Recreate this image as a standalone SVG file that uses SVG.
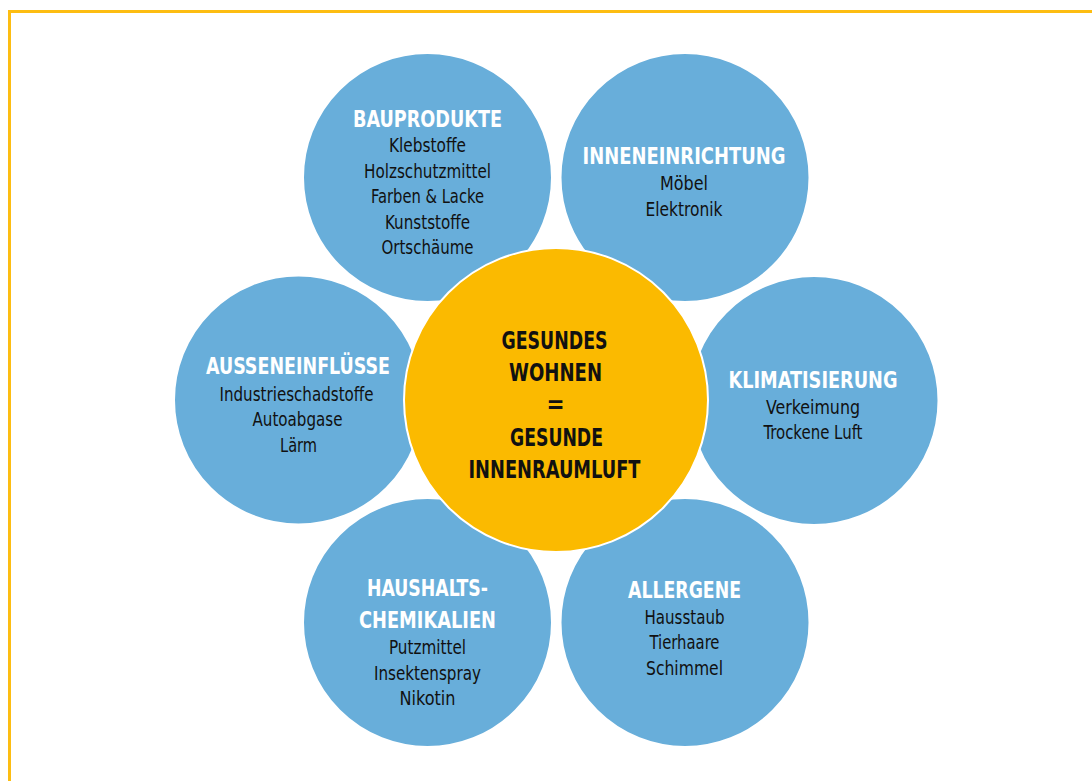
<svg xmlns="http://www.w3.org/2000/svg" width="1092" height="781" viewBox="0 0 1092 781">
<style>
.bg{fill:#ffffff}
.frame{fill:none;stroke:#FDBD12;stroke-width:3}
.blue{fill:#68AEDA;stroke:#ffffff;stroke-width:2}
.yellow{fill:#FBBA00;stroke:#ffffff;stroke-width:2}
text{font-family:"DejaVu Sans Condensed","Liberation Sans",sans-serif;text-anchor:middle}
.h{font-size:23px;font-weight:bold;fill:#ffffff}
.i{font-size:19.5px;fill:#111111}
.c{font-size:24px;font-weight:bold;fill:#111111}
</style>
<rect class="bg" x="0" y="0" width="1092" height="781"/>
<path class="frame" d="M9.5,781 V11.5 H1092"/>
<g id="connectors"/>
<g id="bauprodukte">
<circle class="blue" cx="427.5" cy="177.5" r="124.5"/>
<text class="h" x="427.5" y="126.5" textLength="149" lengthAdjust="spacingAndGlyphs">BAUPRODUKTE</text>
<text class="i" x="427.5" y="152" textLength="77" lengthAdjust="spacingAndGlyphs">Klebstoffe</text>
<text class="i" x="427.5" y="177.5" textLength="127" lengthAdjust="spacingAndGlyphs">Holzschutzmittel</text>
<text class="i" x="427.5" y="203" textLength="113" lengthAdjust="spacingAndGlyphs">Farben &amp; Lacke</text>
<text class="i" x="427.5" y="228.5" textLength="85" lengthAdjust="spacingAndGlyphs">Kunststoffe</text>
<text class="i" x="427.5" y="254" textLength="92" lengthAdjust="spacingAndGlyphs">Ortschäume</text>
</g>
<g id="inneneinrichtung">
<circle class="blue" cx="685" cy="177.5" r="124.5"/>
<text class="h" x="684" y="164" textLength="203" lengthAdjust="spacingAndGlyphs">INNENEINRICHTUNG</text>
<text class="i" x="684" y="190" textLength="48" lengthAdjust="spacingAndGlyphs">Möbel</text>
<text class="i" x="684" y="215.5" textLength="77" lengthAdjust="spacingAndGlyphs">Elektronik</text>
</g>
<g id="klimatisierung">
<circle class="blue" cx="814" cy="400.5" r="124.5"/>
<text class="h" x="813" y="387.5" textLength="169" lengthAdjust="spacingAndGlyphs">KLIMATISIERUNG</text>
<text class="i" x="813" y="413.5" textLength="94" lengthAdjust="spacingAndGlyphs">Verkeimung</text>
<text class="i" x="813" y="438.5" textLength="99" lengthAdjust="spacingAndGlyphs">Trockene Luft</text>
</g>
<g id="allergene">
<circle class="blue" cx="685" cy="622.5" r="124.5"/>
<text class="h" x="684.5" y="597.5" textLength="113" lengthAdjust="spacingAndGlyphs">ALLERGENE</text>
<text class="i" x="684.5" y="623.5" textLength="80" lengthAdjust="spacingAndGlyphs">Hausstaub</text>
<text class="i" x="684.5" y="648.5" textLength="70" lengthAdjust="spacingAndGlyphs">Tierhaare</text>
<text class="i" x="684.5" y="674.5" textLength="77" lengthAdjust="spacingAndGlyphs">Schimmel</text>
</g>
<g id="haushaltschemikalien">
<circle class="blue" cx="427.5" cy="622.5" r="124.5"/>
<text class="h" x="427.5" y="596" textLength="121" lengthAdjust="spacingAndGlyphs">HAUSHALTS-</text>
<text class="h" x="427.5" y="627.5" textLength="137" lengthAdjust="spacingAndGlyphs">CHEMIKALIEN</text>
<text class="i" x="427.5" y="653.5" textLength="77" lengthAdjust="spacingAndGlyphs">Putzmittel</text>
<text class="i" x="427.5" y="679.5" textLength="107" lengthAdjust="spacingAndGlyphs">Insektenspray</text>
<text class="i" x="427.5" y="705" textLength="56" lengthAdjust="spacingAndGlyphs">Nikotin</text>
</g>
<g id="ausseneinfluesse">
<circle class="blue" cx="298.5" cy="400" r="124.5"/>
<text class="h" x="298" y="374" textLength="184" lengthAdjust="spacingAndGlyphs">AUSSENEINFLÜSSE</text>
<text class="i" x="296.5" y="401" textLength="154" lengthAdjust="spacingAndGlyphs">Industrieschadstoffe</text>
<text class="i" x="297.5" y="426" textLength="90" lengthAdjust="spacingAndGlyphs">Autoabgase</text>
<text class="i" x="298.5" y="451.5" textLength="37" lengthAdjust="spacingAndGlyphs">Lärm</text>
</g>
<g id="center">
<circle class="yellow" cx="556" cy="400" r="152"/>
<text class="c" x="554.5" y="349" textLength="106" lengthAdjust="spacingAndGlyphs">GESUNDES</text>
<text class="c" x="555.5" y="381" textLength="93" lengthAdjust="spacingAndGlyphs">WOHNEN</text>
<text class="c" x="555.5" y="413">=</text>
<text class="c" x="556.5" y="445.5" textLength="93" lengthAdjust="spacingAndGlyphs">GESUNDE</text>
<text class="c" x="554.5" y="477.5" textLength="172" lengthAdjust="spacingAndGlyphs">INNENRAUMLUFT</text>
</g>
</svg>
